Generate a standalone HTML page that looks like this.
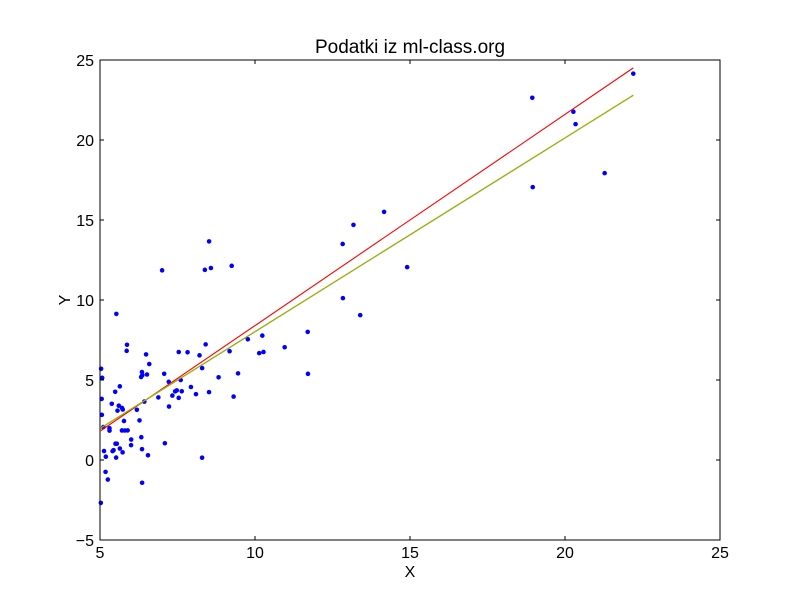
<!DOCTYPE html>
<html><head><meta charset="utf-8"><style>
body{margin:0;background:#fff}
svg text{font-family:"Liberation Sans","DejaVu Sans",sans-serif;fill:#000}
</style></head><body>
<svg id="chart" width="800" height="600">
<rect width="800" height="600" fill="#fff"/>
<g id="marks"></g>
<rect x="100" y="60" width="620" height="480" fill="none" stroke="#000" stroke-width="1"/>
<g id="axes"></g>
<text x="410" y="53" font-size="19" text-anchor="middle">Podatki iz ml-class.org</text>
<text x="410" y="577" font-size="16" text-anchor="middle">X</text>
<text x="66" y="300" font-size="16" text-anchor="middle" transform="rotate(-90 66 300)" dominant-baseline="middle">Y</text>
</svg>
<script>
const xs=[5.5277,8.5186,7.0032,5.8598,8.3829,7.4764,8.5781,6.4862,5.0546,5.7107,14.164,5.734,8.4084,5.6407,5.3794,6.3654,5.1301,6.4296,7.0708,6.1891,20.27,5.4901,6.3261,5.5649,18.945,12.828,10.957,13.176,22.203,5.2524,6.5894,9.2482,5.8918,8.2111,7.9334,8.0959,5.6063,12.836,6.3534,5.4069,6.8825,11.708,5.7737,7.8247,7.0931,5.0702,5.8014,11.7,5.5416,7.5402,5.3077,7.4239,7.6031,6.3328,6.3589,6.2742,5.6397,9.3102,9.4536,8.8254,5.1793,21.279,14.908,18.959,7.2182,8.2951,10.236,5.4994,20.341,10.136,7.3345,6.0062,7.2259,5.0269,6.5479,7.5386,5.0365,10.274,5.1077,5.7292,5.1884,6.3557,9.7687,6.5159,8.5172,9.1802,6.002,5.5204,5.0594,5.7077,7.6366,5.8707,5.3054,8.2934,13.394,5.4369];
const ys=[9.1302,13.662,11.854,6.8233,11.886,4.3483,12,6.5987,3.8166,3.2522,15.505,3.1551,7.2258,0.71618,3.5129,5.3048,0.56077,3.6518,5.3893,3.1386,21.767,4.263,5.1875,3.0825,22.638,13.501,7.0467,14.692,24.147,-1.22,5.9966,12.134,1.8495,6.5426,4.5623,4.1164,3.3928,10.117,5.4974,0.55657,3.9115,5.3854,2.4406,6.7318,1.0463,5.1337,1.844,8.0043,1.0179,6.7504,1.8396,4.2885,4.9981,1.4233,-1.4211,2.4756,4.6042,3.9624,5.4141,5.1694,-0.74279,17.929,12.054,17.054,4.8852,5.7442,7.7754,1.0173,20.992,6.6799,4.0259,1.2784,3.3411,-2.6807,0.29678,3.8845,5.7014,6.7526,2.0576,0.47953,0.20421,0.67861,7.5435,5.3436,4.2415,6.7981,0.92695,0.152,2.8214,1.8451,4.2959,7.2029,1.9869,0.14454,9.0551,0.61705];
const lineRed=[-4.8,1.32];
const lineGreen=[-4.09,1.211];
const lineYellow=[-4.08,1.2105];
const xTicks=[5,10,15,20,25];
const yTicks=[-5,0,5,10,15,20,25];
const X=v=>100+(v-5)*31, Y=v=>540-(v+5)*16;
const NS="http://www.w3.org/2000/svg";
const marks=document.getElementById('marks'), axes=document.getElementById('axes');
function mk(tag,attrs,parent){const e=document.createElementNS(NS,tag);for(const k in attrs)e.setAttribute(k,attrs[k]);parent.appendChild(e);return e;}
xs.forEach((x,i)=>{const c=mk('circle',{cx:X(x),cy:Y(ys[i]),r:2.3,fill:'#0000ff'},marks);

});
const x0=Math.min(...xs), x1=Math.max(...xs);
[[lineRed,'#ff0000','fit-line-red'],[lineGreen,'#008000','fit-line-green'],[lineYellow,'#b0b000','fit-line-yellow']].forEach(([t,col,nm])=>{
const l=mk('line',{x1:X(x0),y1:Y(t[0]+t[1]*x0),x2:X(x1),y2:Y(t[0]+t[1]*x1),stroke:col,'stroke-width':1.1},marks);

});
xTicks.forEach(v=>{const x=X(v);
mk('line',{x1:x,y1:540,x2:x,y2:536,stroke:'#000'},axes);mk('line',{x1:x,y1:60,x2:x,y2:64,stroke:'#000'},axes);
const t=mk('text',{x:x,y:558,'font-size':16,'text-anchor':'middle'},axes);t.textContent=v;

});
yTicks.forEach(v=>{const y=Y(v);
mk('line',{x1:100,y1:y,x2:104,y2:y,stroke:'#000'},axes);mk('line',{x1:720,y1:y,x2:716,y2:y,stroke:'#000'},axes);
const t=mk('text',{x:94,y:y+6,'font-size':16,'text-anchor':'end'},axes);t.textContent=v<0?'\u2212'+(-v):v;

});
</script>
</body></html>
